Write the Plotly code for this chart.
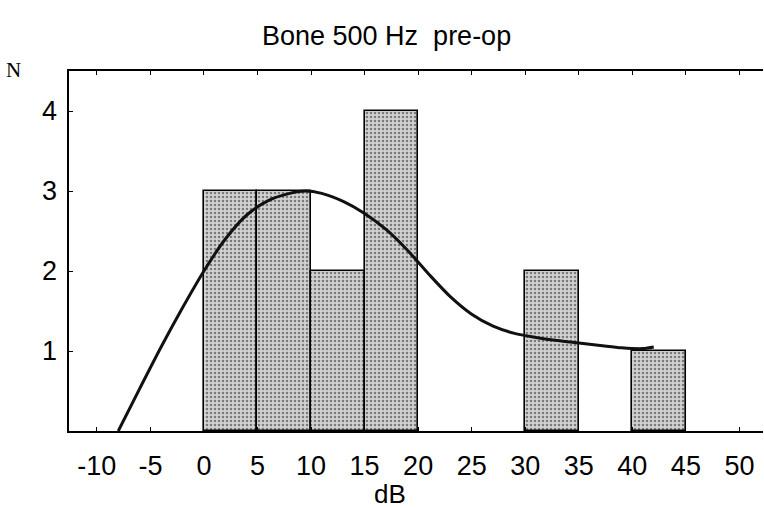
import plotly.graph_objects as go

# Histogram bins (dB, left edges) and counts
bin_left = [0, 5, 10, 15, 30, 40]
bin_width = [5, 5, 5, 5, 5, 5]
counts = [3, 3, 2, 4, 2, 1]

# Smoothed fit curve
curve_x = [-8, -6, -4, -2, 0, 2, 4, 6, 8, 9.5, 11, 13, 15, 17, 19, 21, 23, 25, 27, 29, 31, 33, 35, 37, 39, 41, 42]
curve_y = [0, 0.53, 1.05, 1.54, 2.0, 2.4, 2.7, 2.88, 2.97, 3.0, 2.97, 2.87, 2.72, 2.52, 2.26, 1.96, 1.68, 1.46, 1.31, 1.22, 1.17, 1.13, 1.1, 1.07, 1.04, 1.03, 1.05]

x_ticks = [-10, -5, 0, 5, 10, 15, 20, 25, 30, 35, 40, 45, 50]
y_ticks = [1, 2, 3, 4]

title_text = "Bone 500 Hz\u00a0 pre-op"
x_label = "dB"
y_label = "N"

bar_centers = [l + w / 2 for l, w in zip(bin_left, bin_width)]

W, H = 764, 508
L, R, T, B = 69, 1, 71, 77
pw, ph = W - L - R, H - T - B


def px(x):
    return (x - L) / pw


def py(y):
    return (H - B - y) / ph


fig = go.Figure()
fig.add_trace(go.Bar(
    x=bar_centers, y=counts, width=bin_width,
    marker=dict(
        color="#d0d0d0",
        line=dict(color="#000", width=1.6),
        pattern=dict(shape=".", fgcolor="#222", bgcolor="#d2d2d2", size=4, solidity=0.32),
    ),
    showlegend=False,
))
fig.add_trace(go.Scatter(
    x=curve_x, y=curve_y, mode="lines",
    line=dict(color="#111", width=3, shape="spline", smoothing=0.8),
    showlegend=False,
))

font_main = "Liberation Sans, Arial, sans-serif"

annotations = [
    dict(text=title_text, x=px(386), y=py(36), xref="paper", yref="paper",
         showarrow=False, font=dict(size=27), xanchor="center", yanchor="middle"),
    dict(text=x_label, x=px(390), y=py(494), xref="paper", yref="paper",
         showarrow=False, font=dict(size=26), xanchor="center", yanchor="middle"),
    dict(text=y_label, x=px(13), y=py(70), xref="paper", yref="paper",
         showarrow=False, font=dict(size=21, family="Liberation Serif, Times New Roman, serif"),
         xanchor="center", yanchor="middle"),
]
# y tick labels placed on the y axis scale
for v in y_ticks:
    annotations.append(dict(text=str(v), x=px(59), y=v, xref="paper", yref="y",
                            showarrow=False, font=dict(size=27),
                            xanchor="right", yanchor="middle"))

fig.update_layout(
    width=W, height=H,
    margin=dict(l=L, r=R, t=T, b=B, autoexpand=False),
    paper_bgcolor="white", plot_bgcolor="white",
    bargap=0,
    font=dict(family=font_main, color="#000", size=27),
    xaxis=dict(
        range=[-12.6, 52.2], tickvals=x_ticks, ticktext=[str(v) for v in x_ticks],
        showline=True, linecolor="#000", linewidth=2, mirror="ticks",
        ticks="inside", ticklen=4, tickcolor="#000", automargin=False,
        showgrid=False, zeroline=False, ticklabelstandoff=10,
        tickfont=dict(size=27),
    ),
    yaxis=dict(
        range=[0, 4.5], tickvals=y_ticks, showticklabels=False,
        showline=True, linecolor="#000", linewidth=2, automargin=False,
        ticks="inside", ticklen=4, tickcolor="#000",
        showgrid=False, zeroline=False,
    ),
    annotations=annotations,
)

fig.write_html(
    "out.html",
    config={"displayModeBar": False},
    post_script="document.body.style.margin='0';document.body.style.padding='0';document.body.style.overflow='hidden';",
)
